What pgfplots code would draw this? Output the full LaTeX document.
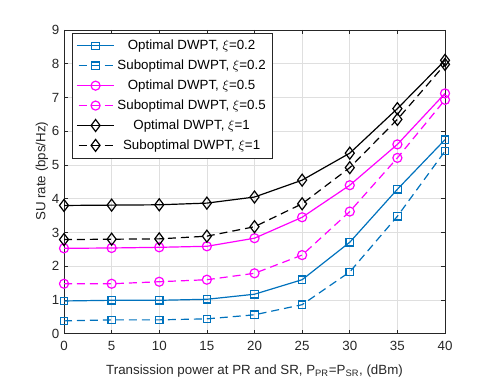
\documentclass[border=0pt]{standalone}
\usepackage{fontspec}
\setmainfont{Liberation Sans}
\usepackage{pgfplots}
\pgfplotsset{compat=1.18}

\definecolor{mblue}{rgb}{0,0.447,0.741}
\definecolor{mmag}{rgb}{1,0,1}
\definecolor{mgray}{rgb}{0.15,0.15,0.15}

\pgfplotstableread{
x   opt02 sub02 opt05 sub05 opt1 sub1
0   0.97  0.38  2.53  1.48  3.80 2.79
5   0.99  0.41  2.54  1.48  3.81 2.80
10  0.99  0.41  2.56  1.54  3.82 2.81
15  1.02  0.44  2.59  1.60  3.87 2.89
20  1.17  0.56  2.83  1.79  4.05 3.17
25  1.60  0.86  3.45  2.33  4.55 3.85
30  2.71  1.83  4.40  3.62  5.35 4.92
35  4.28  3.48  5.61  5.21  6.67 6.35
40  5.75  5.41  7.12  6.93  8.10 7.98
}\rate

\begin{document}
\begin{tikzpicture}
\begin{axis}[
    scale only axis,
    width=286pt, height=228pt,
    xmin=0, xmax=40, ymin=0, ymax=9,
    xtick={0,5,...,40}, ytick={0,1,...,9},
    font=\fontsize{10}{12}\selectfont,
    /pgf/number format/assume math mode=true,
    tick label style={text=mgray},
    xticklabel style={yshift=-2pt},
    axis line style={mgray, line width=0.5pt},
    tick style={mgray, line width=0.5pt},
    tick align=inside,
    major tick length=3pt,
    grid=major,
    grid style={gray!25, line width=0.4pt},
    xlabel={Transission power at PR and SR, P\textsubscript{PR}=P\textsubscript{SR}, (dBm)},
    ylabel={SU rate (bps/Hz)},
    label style={text=mgray},
    xlabel style={yshift=-4pt},
    ylabel style={yshift=-4pt, xshift=8pt},
    clip=false,
    legend cell align=center,
    legend style={at={(rel axis cs:0.021,0.99)}, anchor=north west,
        draw=mgray, line width=0.5pt, fill=white,
        font=\fontsize{10}{12}\selectfont,
        row sep=2.2pt, inner xsep=3pt, inner ysep=3pt},
    legend image code/.code={\draw[draw=., dash phase=8.5pt, mark repeat=2, mark phase=2, line width=0.9pt]
        plot coordinates {(0pt,0pt) (14pt,0pt) (28pt,0pt)};},
    sol/.style={line width=0.9pt, mark options={solid}},
    dsh/.style={line width=0.9pt, dash pattern=on 6pt off 3.75pt, mark options={solid}},
]
\addplot[mblue, sol, mark=square, mark size=2.8pt] table[x=x,y=opt02] {\rate};
\addlegendentry{Optimal DWPT, $\xi$=0.2}
\addplot[mblue, dsh, mark=square, mark size=2.8pt] table[x=x,y=sub02] {\rate};
\addlegendentry{Suboptimal DWPT, $\xi$=0.2}
\addplot[mmag, sol, mark=o, mark size=3.4pt] table[x=x,y=opt05] {\rate};
\addlegendentry{Optimal DWPT, $\xi$=0.5}
\addplot[mmag, dsh, mark=o, mark size=3.4pt] table[x=x,y=sub05] {\rate};
\addlegendentry{Suboptimal DWPT, $\xi$=0.5}
\addplot[black, sol, mark=diamond, mark size=4.5pt] table[x=x,y=opt1] {\rate};
\addlegendentry{Optimal DWPT, $\xi$=1}
\addplot[black, dsh, mark=diamond, mark size=4.5pt] table[x=x,y=sub1] {\rate};
\addlegendentry{Suboptimal DWPT, $\xi$=1}
\path (rel axis cs:-0.168,-0.158) rectangle (rel axis cs:1.1207,1.0987);
\end{axis}
\end{tikzpicture}
\end{document}
